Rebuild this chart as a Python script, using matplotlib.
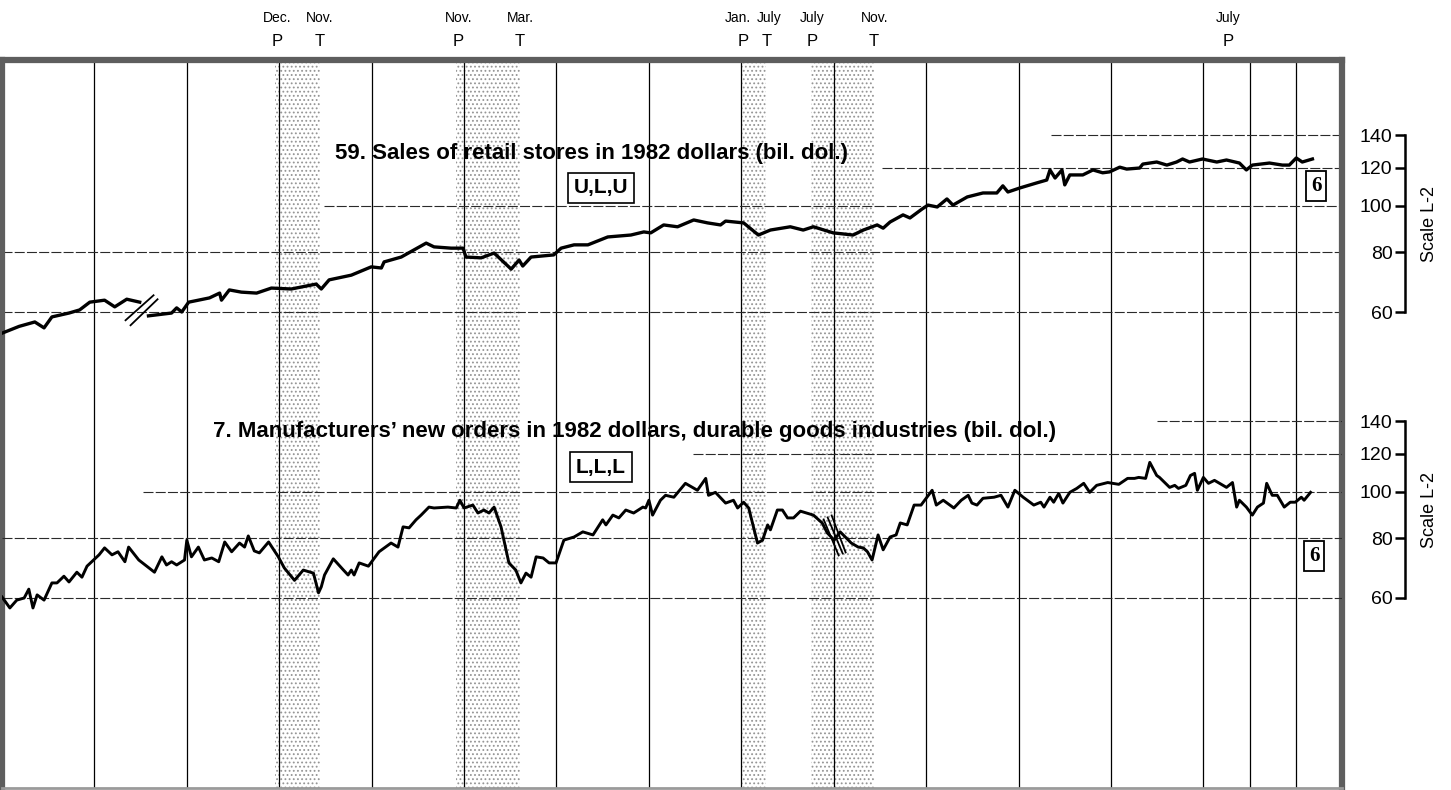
import numpy as np
import matplotlib
matplotlib.use("Agg")
import matplotlib.pyplot as plt
from matplotlib import transforms as mtransforms
from matplotlib.ticker import NullLocator

# ------------------------------------------------------------------ data
# Series 59: retail sales, 1982 dollars (bil. dol.) -- segment before the 1967 break
retail_a_dates = [1964.00, 1964.37, 1964.71, 1964.91, 1965.08, 1965.25, 1965.45, 1965.68,
                  1965.90, 1966.22, 1966.44, 1966.70, 1966.98]
retail_a_vals = [54.2, 56.0, 57.2, 55.6, 58.6, 59.1, 59.7, 60.6,
                 62.9, 63.5, 61.5, 63.8, 62.9]

# Series 59: segment after the break
retail_b_dates = [1967.17, 1967.67, 1967.78, 1967.89, 1968.04, 1968.25, 1968.49, 1968.71, 1968.75,
                  1968.92, 1969.18, 1969.51, 1969.83, 1970.26, 1970.80, 1970.91, 1971.08, 1971.56,
                  1971.99, 1972.21, 1972.27, 1972.64, 1973.18, 1973.35, 1973.72, 1973.98, 1974.04,
                  1974.37, 1974.65, 1975.02, 1975.19, 1975.27, 1975.45, 1975.94, 1976.10, 1976.38,
                  1976.68, 1977.11, 1977.61, 1977.89, 1978.04, 1978.32, 1978.62, 1978.97, 1979.27,
                  1979.55, 1979.66, 1980.05, 1980.37, 1980.63, 1981.06, 1981.34, 1981.56, 1981.99,
                  1982.42, 1982.64, 1982.94, 1983.07, 1983.22, 1983.50, 1983.65, 1983.91, 1984.04,
                  1984.24, 1984.45, 1984.58, 1984.89, 1985.23, 1985.53, 1985.66, 1985.77, 1986.03,
                  1986.40, 1986.61, 1986.68, 1986.79, 1986.94, 1987.00, 1987.11, 1987.39, 1987.61,
                  1987.82, 1987.97, 1988.19, 1988.34, 1988.62, 1988.69, 1988.99, 1989.21, 1989.42,
                  1989.55, 1989.70, 1989.98, 1990.29, 1990.50, 1990.78, 1990.93, 1991.06, 1991.43,
                  1991.71, 1991.86, 1992.01, 1992.14, 1992.36]
retail_b_vals = [58.9, 59.7, 61.2, 60.0, 62.9, 63.5, 64.2, 65.7, 63.5,
                 66.7, 66.0, 65.7, 67.3, 67.0, 68.6, 67.0, 70.0, 71.6,
                 74.5, 74.1, 76.3, 78.1, 83.5, 82.0, 81.5, 81.5, 78.1,
                 77.8, 79.6, 73.7, 77.0, 74.8, 78.1, 78.9, 81.5, 82.8,
                 82.8, 86.0, 86.8, 88.1, 87.7, 91.1, 90.3, 93.3, 92.0,
                 91.1, 92.8, 92.0, 86.8, 88.9, 90.3, 88.9, 90.3, 87.7,
                 86.8, 88.9, 91.1, 89.7, 92.4, 95.6, 94.2, 98.3, 100.2,
                 99.3, 103.2, 100.2, 104.2, 106.2, 106.2, 109.9, 106.7, 108.8,
                 111.5, 113.0, 118.6, 114.1, 118.6, 110.4, 115.8, 115.8, 118.6,
                 117.0, 117.5, 120.2, 119.1, 119.7, 122.0, 123.2, 121.4, 123.2,
                 125.0, 123.2, 125.0, 123.2, 124.4, 122.6, 118.6, 121.4, 122.6,
                 121.4, 121.4, 125.6, 123.2, 125.0]

# Series 7: manufacturers' new orders, durable goods, 1982 dollars (bil. dol.)
orders_dates = [1964.00, 1964.17, 1964.32, 1964.48, 1964.58, 1964.67, 1964.76, 1964.91, 1965.08,
                1965.19, 1965.34, 1965.45, 1965.62, 1965.73, 1965.84, 1966.10, 1966.22, 1966.38,
                1966.51, 1966.66, 1966.74, 1966.96, 1967.24, 1967.30, 1967.46, 1967.56, 1967.67,
                1967.78, 1967.95, 1968.00, 1968.10, 1968.25, 1968.38, 1968.54, 1968.69, 1968.82,
                1968.97, 1969.14, 1969.25, 1969.33, 1969.46, 1969.57, 1969.77, 1969.98, 1970.11,
                1970.33, 1970.52, 1970.74, 1970.85, 1970.91, 1970.98, 1971.17, 1971.39, 1971.49,
                1971.56, 1971.62, 1971.73, 1971.93, 1972.16, 1972.42, 1972.57, 1972.68, 1972.81,
                1972.96, 1973.07, 1973.24, 1973.35, 1973.65, 1973.83, 1973.91, 1974.00, 1974.19,
                1974.30, 1974.43, 1974.54, 1974.65, 1974.80, 1974.97, 1975.12, 1975.23, 1975.34,
                1975.45, 1975.56, 1975.71, 1975.84, 1975.99, 1976.16, 1976.38, 1976.57, 1976.79,
                1977.00, 1977.07, 1977.22, 1977.35, 1977.50, 1977.67, 1977.87, 1977.93, 1978.00,
                1978.08, 1978.25, 1978.36, 1978.54, 1978.79, 1979.05, 1979.23, 1979.29, 1979.44,
                1979.66, 1979.83, 1979.92, 1980.05, 1980.16, 1980.35, 1980.46, 1980.57, 1980.63,
                1980.78, 1980.89, 1981.00, 1981.13, 1981.28, 1981.56, 1981.75, 1981.86, 1982.01,
                1982.14, 1982.38, 1982.53, 1982.64, 1982.73, 1982.83, 1982.96, 1983.07, 1983.22,
                1983.35, 1983.44, 1983.59, 1983.74, 1983.89, 1984.13, 1984.22, 1984.37, 1984.60,
                1984.76, 1984.91, 1984.99, 1985.10, 1985.23, 1985.47, 1985.62, 1985.77, 1985.92,
                1986.10, 1986.33, 1986.48, 1986.55, 1986.68, 1986.76, 1986.87, 1986.96, 1987.11,
                1987.26, 1987.41, 1987.54, 1987.69, 1987.93, 1988.17, 1988.36, 1988.51, 1988.60,
                1988.75, 1988.84, 1988.99, 1989.05, 1989.18, 1989.27, 1989.38, 1989.46, 1989.62,
                1989.72, 1989.81, 1989.87, 1990.00, 1990.11, 1990.24, 1990.35, 1990.50, 1990.63,
                1990.72, 1990.78, 1990.93, 1991.06, 1991.17, 1991.30, 1991.37, 1991.49, 1991.60,
                1991.75, 1991.88, 1991.99, 1992.12, 1992.18, 1992.32]
orders_vals = [60.3, 57.2, 59.4, 60.0, 62.6, 57.2, 60.9, 59.4, 64.5,
               64.5, 66.6, 64.8, 67.9, 66.3, 69.9, 73.8, 76.3, 73.8,
               74.9, 71.4, 76.6, 72.0, 68.6, 67.9, 73.1, 70.3, 71.4,
               70.3, 72.0, 79.2, 73.1, 76.6, 72.0, 72.7, 71.4, 78.5,
               74.9, 78.1, 76.6, 80.8, 75.2, 74.5, 78.5, 73.1, 69.3,
               65.3, 68.6, 67.6, 61.5, 63.3, 67.0, 72.4, 68.6, 67.0,
               68.6, 67.0, 71.0, 69.9, 74.9, 78.1, 76.6, 84.4, 84.0,
               87.3, 89.3, 92.8, 92.4, 92.8, 92.4, 95.9, 92.4, 93.7,
               90.2, 91.5, 90.2, 92.8, 84.4, 71.0, 68.6, 64.5, 67.6,
               66.3, 73.1, 72.7, 71.0, 71.0, 79.2, 80.4, 82.4, 81.2,
               87.3, 85.2, 89.3, 88.1, 91.5, 90.2, 92.8, 92.4, 95.9,
               89.3, 95.9, 98.2, 97.3, 104.0, 100.6, 106.5, 98.2, 99.6,
               94.6, 95.9, 92.4, 95.0, 92.4, 78.1, 79.2, 85.2, 83.2,
               91.5, 91.5, 88.1, 88.1, 91.0, 89.3, 86.0, 82.0, 79.2,
               82.4, 78.1, 76.6, 76.3, 74.9, 72.0, 81.2, 75.6, 80.4,
               81.2, 86.0, 85.2, 93.7, 93.7, 100.6, 93.7, 95.9, 92.4,
               95.9, 98.2, 94.6, 93.7, 96.8, 97.3, 98.2, 92.8, 100.6,
               97.3, 93.7, 95.0, 92.8, 97.3, 95.0, 99.1, 94.6, 99.6,
               101.5, 104.0, 99.6, 103.0, 104.4, 103.5, 106.5, 106.5, 107.0,
               106.5, 115.0, 108.0, 107.0, 104.0, 102.0, 103.0, 101.5, 103.0,
               108.0, 109.1, 100.6, 107.0, 104.0, 105.5, 104.0, 102.0, 104.4,
               92.8, 95.9, 92.8, 89.3, 92.8, 94.6, 104.0, 98.2, 98.2,
               92.8, 95.0, 95.0, 97.3, 95.9, 99.6]

# Business-cycle turning points (year, month)
peak_dates = [(1969, 12), (1973, 11), (1980, 1), (1981, 7), (1990, 7)]
peak_labels = ["Dec.", "Nov.", "Jan.", "July", "July"]
trough_dates = [(1970, 11), (1975, 3), (1980, 7), (1982, 11)]
trough_labels = ["Nov.", "Mar.", "July", "Nov."]

grid_years = [1966, 1968, 1970, 1972, 1974, 1976, 1978, 1980, 1982, 1984, 1986, 1988,
              1990, 1991, 1992]
scale_ticks = [60, 80, 100, 120, 140]
scale_labels = ["60", "80", "100", "120", "140"]
# horizontal guide lines: (value, first year drawn)
top_guides = [(140, 1986.7), (120, 1983.05), (100, 1970.97), (80, 1964.0), (60, 1964.0)]
bottom_guides = [(140, 1989.0), (120, 1978.95), (100, 1967.05), (80, 1964.0), (60, 1964.0)]

title_top = "59. Sales of retail stores in 1982 dollars (bil. dol.)"
title_bottom = "7. Manufacturers\u2019 new orders in 1982 dollars, durable goods industries (bil. dol.)"
code_top = "U,L,U"
code_bottom = "L,L,L"
timing_label = "6"
scale_name = "Scale L-2"
retail_break = (1967.02, 60.5)
orders_break = (1982.02, 81.0)

# ------------------------------------------------------------------ layout
plt.rcParams["font.family"] = ["Liberation Sans Narrow", "Liberation Sans", "DejaVu Sans"]
W, H = 1451, 790
fig = plt.figure(figsize=(W / 100, H / 100), dpi=100)
L, R, T, B = 2, 1342, 60, 788
pos = [L / W, (H - B) / H, (R - L) / W, (B - T) / H]
DEC = 480.0  # pixels per decade on the log scales
ylim_top = (60 * 10 ** ((312 - B) / DEC), 60 * 10 ** ((312 - T) / DEC))
ylim_bot = (60 * 10 ** ((598 - B) / DEC), 60 * 10 ** ((598 - T) / DEC))

ax1 = fig.add_axes(pos)
ax2 = fig.add_axes(pos, label="lower")
for ax, yl in ((ax1, ylim_top), (ax2, ylim_bot)):
    ax.set_yscale("log")
    ax.set_xlim(1964, 1993)
    ax.set_ylim(*yl)
    ax.set_autoscale_on(False)
    ax.xaxis.set_major_locator(NullLocator())
    ax.xaxis.set_minor_locator(NullLocator())
    ax.yaxis.set_major_locator(NullLocator())
    ax.yaxis.set_minor_locator(NullLocator())
ax2.patch.set_visible(False)
for s in ax2.spines.values():
    s.set_visible(False)
for side in ("left", "top", "right"):
    ax1.spines[side].set_color("#5e5e5e")
    ax1.spines[side].set_linewidth(4.5)
ax1.spines["bottom"].set_color("#9a9a9a")
ax1.spines["bottom"].set_linewidth(2)
ax1.spines["bottom"].set_linestyle((0, (3, 1)))

plt.rcParams["hatch.linewidth"] = 0.8
# recession shading
for (py, pm), (ty, tm) in zip(peak_dates, trough_dates):
    ax1.axvspan(py + (pm - 1) / 12, ty + (tm - 0.5) / 12, facecolor="white",
                edgecolor="#959595", hatch="....", linewidth=0, zorder=0.5)
# vertical year lines
for yr in grid_years:
    ax1.axvline(yr, color="black", lw=0.9, zorder=1)
# horizontal guides
for ax, guides in ((ax1, top_guides), (ax2, bottom_guides)):
    for v, start in guides:
        ax.hlines(v, start, 1993, colors="#2a2a2a", lw=0.8, linestyles=(0, (9, 2)), zorder=1)

# series
ax1.plot(retail_a_dates, retail_a_vals, color="black", lw=2.4, solid_joinstyle="round", zorder=3)
ax1.plot(retail_b_dates, retail_b_vals, color="black", lw=2.4, solid_joinstyle="round", zorder=3)
ax2.plot(orders_dates, orders_vals, color="black", lw=2.1, solid_joinstyle="round", zorder=3)


def break_marks(ax, anchor, segs):
    tr = fig.dpi_scale_trans + mtransforms.ScaledTranslation(anchor[0], anchor[1], ax.transData)
    for (x1, y1, x2, y2) in segs:
        ax.plot([x1 / 100, x2 / 100], [y1 / 100, y2 / 100], transform=tr, color="black",
                lw=1.3, clip_on=False, zorder=4)


break_marks(ax1, retail_break, [(-16, -10, 12, 15), (-11, -15, 16, 11)])
break_marks(ax2, orders_break, [(-11, 16, 4, -20), (-7, 18, 8, -18), (-3, 20, 11, -17)])

# turning point labels above the frame (small pixel nudges keep neighbours apart)
peak_nudge = [0, 0, -5, 0, 0]
trough_nudge = [0, 0, 3, 0]


def turning_labels(dates, labels, letter, nudges):
    for (y, m), lab, dx in zip(dates, labels, nudges):
        t = y + (m - 0.5) / 12
        base = mtransforms.blended_transform_factory(ax1.transData, fig.transFigure)
        tr = base + mtransforms.ScaledTranslation(dx / 100, 0, fig.dpi_scale_trans)
        ax1.text(t, 1 - 18 / H, lab, transform=tr, ha="center", va="center", fontsize=10)
        ax1.text(t, 1 - 42 / H, letter, transform=base, ha="center", va="center", fontsize=12)


turning_labels(peak_dates, peak_labels, "P", peak_nudge)
turning_labels(trough_dates, trough_labels, "T", trough_nudge)

# titles and boxes
fig.text(335 / W, 1 - 153 / H, title_top, ha="left", va="center", fontsize=16, weight="bold")
fig.text(213 / W, 1 - 432 / H, title_bottom, ha="left", va="center", fontsize=16, weight="bold")
box = dict(boxstyle="square,pad=0.28", fc="white", ec="black", lw=1.2)
fig.text(601 / W, 1 - 188 / H, code_top, ha="center", va="center", fontsize=15, weight="bold", bbox=box)
fig.text(601 / W, 1 - 467 / H, code_bottom, ha="center", va="center", fontsize=15, weight="bold", bbox=box)
box6 = dict(boxstyle="square,pad=0.22", fc="white", ec="black", lw=1.3)
fig.text(1316 / W, 1 - 186 / H, timing_label, ha="center", va="center", fontsize=15, weight="bold",
         family=["Liberation Serif", "DejaVu Serif"], bbox=box6)
fig.text(1314 / W, 1 - 556 / H, timing_label, ha="center", va="center", fontsize=15, weight="bold",
         family=["Liberation Serif", "DejaVu Serif"], bbox=box6)

# right-hand scales
for lbl, yl in (("s1", ylim_top), ("s2", ylim_bot)):
    sa = fig.add_axes([1405 / W, pos[1], 20 / W, pos[3]], label=lbl)
    sa.set_yscale("log")
    sa.set_ylim(*yl)
    sa.set_xlim(0, 1)
    sa.patch.set_visible(False)
    for side in ("top", "right", "bottom"):
        sa.spines[side].set_visible(False)
    sa.spines["left"].set_bounds(scale_ticks[0], scale_ticks[-1])
    sa.spines["left"].set_linewidth(1.8)
    sa.set_yticks(scale_ticks, labels=scale_labels)
    sa.yaxis.set_minor_locator(NullLocator())
    sa.xaxis.set_major_locator(NullLocator())
    sa.tick_params(axis="y", direction="out", length=7, width=1.8, labelsize=14, pad=2)
    ttr = mtransforms.blended_transform_factory(sa.transAxes, sa.transData)
    sa.text(1.25, np.sqrt(scale_ticks[0] * scale_ticks[-1]), scale_name, transform=ttr,
            rotation=90, ha="center", va="center", fontsize=13)

fig.savefig("out.png", dpi=100)
